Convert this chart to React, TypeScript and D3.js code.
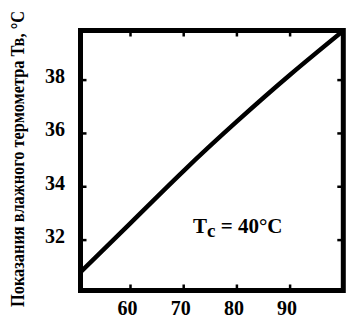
import React from "react";
import * as d3 from "d3";

const humidity = [50.6, 60, 70, 80, 90, 100];
const wetBulb = [30.8, 32.64, 34.6, 36.45, 38.2, 39.85];
const xTicks = [60, 70, 80, 90];
const yTicks = [32, 34, 36, 38];
const yLabel = "Показания влажного термометра Тв, °С";

const W = 350, H = 322;
const L = 80.5, R = 343.3, T = 30.5, B = 290.5;

export default function App() {
  const x = d3.scaleLinear().domain([50.6, 100]).range([L, R]);
  const y = d3.scaleLinear().domain([30.11, 39.86]).range([B, T]);
  const line = d3
    .line<number>()
    .x((_, i) => x(humidity[i]))
    .y((d) => y(d))
    .curve(d3.curveNatural);
  const font = "'Liberation Serif', 'Times New Roman', serif";
  const tl = 6;
  return (
    <svg width={W} height={H} style={{ position: "absolute", left: 0, top: 0, background: "#fff" }}>
      <defs>
        <clipPath id="pc">
          <rect x={L} y={T} width={R - L} height={B - T} />
        </clipPath>
      </defs>
      <path d={line(wetBulb) || ""} fill="none" stroke="#000" strokeWidth={4.5} clipPath="url(#pc)" />
      <rect x={L} y={T} width={R - L} height={B - T} fill="none" stroke="#000" strokeWidth={5} />
      {xTicks.map((t) => (
        <g key={"x" + t}>
          <line x1={x(t)} x2={x(t)} y1={B} y2={B - tl} stroke="#000" strokeWidth={2.5} />
          <line x1={x(t)} x2={x(t)} y1={T} y2={T + tl} stroke="#000" strokeWidth={2.5} />
          <text x={x(t) - 3} y={315} textAnchor="middle" fontFamily={font} fontWeight="bold" fontSize={20}>
            {t}
          </text>
        </g>
      ))}
      {yTicks.map((t) => (
        <g key={"y" + t}>
          <line x1={L} x2={L + tl} y1={y(t)} y2={y(t)} stroke="#000" strokeWidth={2.5} />
          <line x1={R} x2={R - tl} y1={y(t)} y2={y(t)} stroke="#000" strokeWidth={2.5} />
          <text x={65} y={y(t) + 3} textAnchor="end" fontFamily={font} fontWeight="bold" fontSize={20}>
            {t}
          </text>
        </g>
      ))}
      <text
        transform="translate(24,307) rotate(-90) scale(1,1.12)"
        fontFamily={font}
        fontWeight="bold"
        fontSize={16}
        textLength={296}
        lengthAdjust="spacingAndGlyphs"
      >
        {yLabel}
      </text>
      <text x={193} y={233} fontFamily={font} fontWeight="bold" fontSize={21}>
        T<tspan dy={4} fontSize={19}>c</tspan>
        <tspan dy={-4}> = 40°C</tspan>
      </text>
    </svg>
  );
}
